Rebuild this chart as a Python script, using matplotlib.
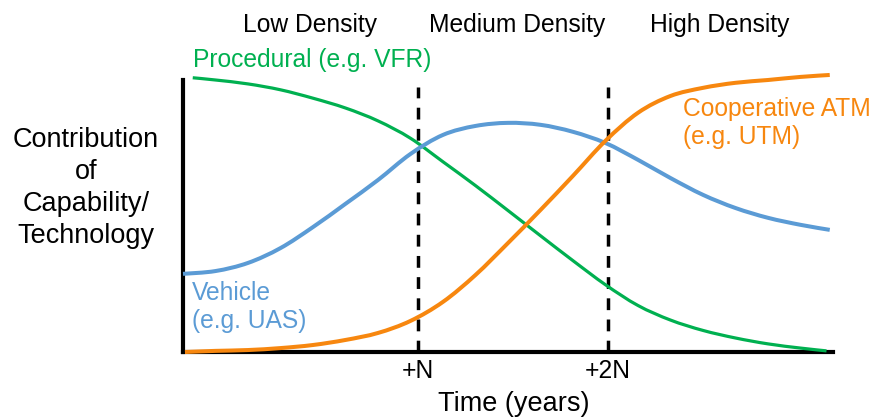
import matplotlib
matplotlib.use("Agg")
import matplotlib.pyplot as plt
from matplotlib.path import Path
from matplotlib.patches import PathPatch

# ---- data (arbitrary units: time 0..10, contribution 0..100) ----
t_proc = [0.15, 0.5, 1.0, 1.5, 2.0, 2.5, 3.0, 3.5, 4.0, 4.5, 5.0, 5.5, 6.0, 6.5, 7.0, 7.5, 8.0, 8.5, 9.0, 9.5, 9.9]
procedural = [97.9, 97.1, 95.7, 93.6, 90.6, 87.1, 82.5, 76.3, 67.9, 59.4, 50.5, 41.5, 32.6, 24.0, 16.6, 11.4, 7.7, 5.0, 2.9, 1.4, 0.4]

t_veh = [0.0, 0.5, 1.0, 1.5, 2.0, 2.5, 3.0, 3.5, 4.0, 4.5, 5.0, 5.5, 6.0, 6.5, 7.0, 7.5, 8.0, 8.5, 9.0, 9.5, 9.95]
vehicle = [27.9, 28.9, 31.8, 37.1, 44.6, 52.9, 61.4, 70.7, 77.5, 80.7, 81.8, 81.1, 78.6, 74.6, 68.6, 62.1, 56.1, 51.4, 47.9, 45.4, 43.6]

t_atm = [0.03, 0.5, 1.0, 1.5, 2.0, 2.5, 3.0, 3.5, 4.0, 4.5, 5.0, 5.5, 6.0, 6.5, 7.0, 7.5, 8.0, 8.5, 9.0, 9.5, 9.95]
cooperative = [0.0, 0.4, 0.7, 1.4, 2.5, 4.3, 6.8, 11.1, 17.9, 27.5, 38.9, 50.7, 62.9, 75.4, 85.4, 91.4, 94.3, 96.1, 97.1, 98.2, 98.9]

phase_bounds = [3.615, 6.538]
tick_labels = ["+N", "+2N"]
phase_labels = ["Low Density", "Medium Density", "High Density"]

GREEN = "#00B050"
BLUE = "#5B9BD5"
ORANGE = "#F7870F"

plt.rcParams['font.family'] = ['Liberation Sans', 'DejaVu Sans']
W, H = 873, 420
fig = plt.figure(figsize=(W / 100, H / 100), dpi=100)
ax = fig.add_axes([183 / W, (H - 352) / H, (833 - 183) / W, (352 - 80) / H])
ax.set_xlim(0, 10)
ax.set_ylim(0, 97.1)
for s in ["top", "right"]:
    ax.spines[s].set_visible(False)
for s in ["left", "bottom"]:
    ax.spines[s].set_linewidth(3)
    ax.spines[s].set_color("black")
ax.set_yticks([])
ax.set_xticks(phase_bounds)
ax.set_xticklabels(tick_labels, fontsize=17.7)
ax.tick_params(axis='x', length=0, pad=5)

for xb in phase_bounds:
    ax.plot([xb, xb], [0, 94.6], color="black", lw=2.5, ls=(0, (3.4, 2.7)),
            clip_on=False, zorder=1, solid_capstyle='butt')


def smooth_curve(xs, ys, color, lw):
    """Draw a smooth Catmull-Rom (as cubic Bezier) curve through the data points."""
    pts = list(zip(xs, ys))
    n = len(pts)
    verts = [pts[0]]
    codes = [Path.MOVETO]
    for i in range(n - 1):
        p0 = pts[i - 1] if i > 0 else pts[i]
        p1 = pts[i]
        p2 = pts[i + 1]
        p3 = pts[i + 2] if i + 2 < n else pts[i + 1]
        c1 = (p1[0] + (p2[0] - p0[0]) / 6.0, p1[1] + (p2[1] - p0[1]) / 6.0)
        c2 = (p2[0] - (p3[0] - p1[0]) / 6.0, p2[1] - (p3[1] - p1[1]) / 6.0)
        verts += [c1, c2, p2]
        codes += [Path.CURVE4] * 3
    patch = PathPatch(Path(verts, codes), facecolor='none', edgecolor=color,
                      lw=lw, clip_on=False, zorder=3, capstyle='butt')
    ax.add_patch(patch)


smooth_curve(t_proc, procedural, GREEN, 2.3)
smooth_curve(t_veh, vehicle, BLUE, 2.9)
smooth_curve(t_atm, cooperative, ORANGE, 2.9)


def ftext(x, y, s, size=17.7, **k):
    fig.text(x / W, 1 - y / H, s, fontsize=size, **k)

for lab, xc in zip(phase_labels, [310, 517, 720]):
    ftext(xc, 25, lab, ha="center", va="center", color="black")

ftext(193, 60, "Procedural (e.g. VFR)", ha="left", va="center", color=GREEN)
ftext(192, 307, "Vehicle\n(e.g. UAS)", ha="left", va="center", color=BLUE, linespacing=1.25)
ftext(683, 123, "Cooperative ATM\n(e.g. UTM)", ha="left", va="center", color=ORANGE, linespacing=1.25)
ftext(86, 188, "Contribution\nof\nCapability/\nTechnology", size=19.5, ha="center", va="center",
      color="black", linespacing=1.29)
ftext(514, 404, "Time (years)", size=19.5, ha="center", va="center", color="black")

fig.savefig("out.png", dpi=100)
